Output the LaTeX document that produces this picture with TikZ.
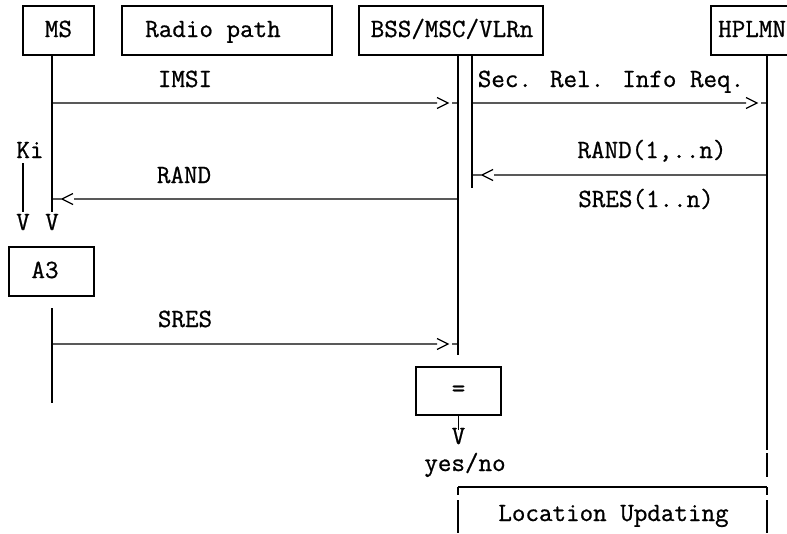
\documentclass[tikz,border=0pt]{standalone}
\usepackage{fontspec}
\newfontfamily\diagmono{Latin Modern Mono}[FakeBold=0.8]
\usetikzlibrary{calc}
\tikzset{
  box/.style={draw, line width=1.4pt, inner sep=0pt, minimum height=49pt},
  txt/.style={font=\diagmono\fontsize{26.3}{26}\selectfont, inner sep=0pt},
  life/.style={line width=1.3pt},
  msg/.style={line width=1.2pt},
  msgR/.style={to path={(\tikztostart) -- ($(\tikztotarget)+(-21,0)$)
      ($(\tikztotarget)+(-21,-5.5)$) -- ($(\tikztotarget)+(-10,0)$) -- ($(\tikztotarget)+(-21,5.5)$)
      ($(\tikztotarget)+(-6,0)$) -- (\tikztotarget)}},
  msgL/.style={to path={(\tikztostart) -- ($(\tikztotarget)+(22,0)$)
      ($(\tikztotarget)+(21,-5.5)$) -- ($(\tikztotarget)+(10,0)$) -- ($(\tikztotarget)+(21,5.5)$)
      ($(\tikztotarget)+(10,0)$) -- (\tikztotarget)}}
}
\begin{document}
\begin{tikzpicture}[x=1pt,y=-1pt]
\useasboundingbox (0,0) rectangle (787,533);
\clip (0,0) rectangle (787,533);
% boxes
\node[box, minimum width=71pt] (ms) at (58.5,30.5) {};
\node[box, minimum width=210pt] (radio) at (227,30.5) {};
\node[box, minimum width=184pt] (bss) at (451,30.5) {};
\node[box, minimum width=89pt] (hplmn) at (755.5,30.5) {};
\node[box, minimum width=85pt] (a3) at (51.5,271.5) {};
\node[box, minimum width=85pt, minimum height=48pt] (eq) at (458.5,391) {};
% box labels
\node[txt, anchor=base] (msT) at (58.5,37) {MS};
\node[txt, anchor=base] (radioT) at (213,37) {Radio path};
\node[txt, anchor=base] (bssT) at (452,37) {BSS/MSC/VLRn};
\node[txt, anchor=base west] (hplmnT) at (718,37) {HPLMN};
\node[txt, anchor=base] (a3T) at (45,278) {A3};
\node[txt] (eqT) at (458.5,391) {=};
% lifeline coordinates
\coordinate (msA) at (52,55);
\coordinate (msB) at (52,212);
\coordinate (msC) at (52,308);
\coordinate (msD) at (52,403);
\coordinate (kiA) at (23,163);
\coordinate (kiB) at (23,212);
\coordinate (bl0) at (458,55);
\coordinate (bl1) at (458,103);
\coordinate (bl2) at (458,199);
\coordinate (bl3) at (458,344);
\coordinate (blE) at (458,355);
\coordinate (br0) at (472,55);
\coordinate (br1) at (472,103);
\coordinate (br2) at (472,175);
\coordinate (brE) at (472,188);
\coordinate (h0) at (767,55);
\coordinate (h1) at (767,103);
\coordinate (h2) at (767,175);
\coordinate (hE) at (767,450);
\coordinate (hF) at (767,453);
\coordinate (hG) at (767,477);
\coordinate (m1) at (52,103);
\coordinate (m2) at (52,199);
\coordinate (m3) at (52,344);
\coordinate (eqE) at (458.5,430);
% lifelines
\draw[life] (msA) -- (msB);
\draw[life] (msC) -- (msD);
\draw[life] (kiA) -- (kiB);
\draw[life] (bl0) -- (blE);
\draw[life] (br0) -- (brE);
\draw[life] (h0) -- (hE);
\draw[life] (hF) -- (hG);
\draw[life] (eq.south) -- (eqE);
% messages
\draw[msg] (m1) to[msgR] (bl1);
\draw[msg] (br1) to[msgR] (h1);
\draw[msg] (h2) to[msgL] (br2);
\draw[msg] (bl2) to[msgL] (m2);
\draw[msg] (m3) to[msgR] (bl3);
% message labels
\node[txt, anchor=base] (imsiT) at (185,87) {IMSI};
\node[txt, anchor=base] (secT) at (611,87) {Sec. Rel. Info Req.};
\node[txt, anchor=base] (randnT) at (652,158) {RAND(1,..n)};
\node[txt, anchor=base] (sresnT) at (646,207) {SRES(1..n)};
\node[txt, anchor=base] (randT) at (184,183) {RAND};
\node[txt, anchor=base] (sresT) at (185,327) {SRES};
% Ki and V marks
\node[txt, anchor=base] (kiT) at (30,158) {Ki};
\node[txt, anchor=base] (v1) at (23,230) {V};
\node[txt, anchor=base] (v2) at (52,230) {V};
\node[txt, anchor=base] (v3) at (458.5,444) {V};
\node[txt, anchor=base] (yn) at (465,471) {yes/no};
% Location Updating box (cut by page edge)
\coordinate (luA) at (458,487);
\coordinate (luB) at (767,487);
\draw[life] (luA) -- (luB);
\draw[life] (luA) -- (458,495) (458,500) -- (458,533);
\draw[life] (luB) -- (767,495) (767,500) -- (767,533);
\node[txt, anchor=base] (luT) at (613.5,521) {Location Updating};
\end{tikzpicture}
\end{document}
